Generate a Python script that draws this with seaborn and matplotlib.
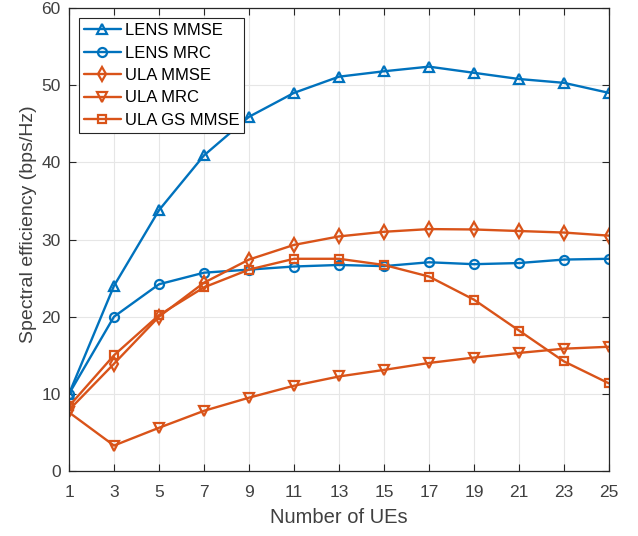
import matplotlib
matplotlib.use("Agg")
import matplotlib.pyplot as plt
import seaborn as sns
import pandas as pd

num_ues = [1, 3, 5, 7, 9, 11, 13, 15, 17, 19, 21, 23, 25]

lens_mmse = [10.0, 24.0, 33.8, 40.9, 45.9, 49.0, 51.1, 51.8, 52.4, 51.6, 50.8, 50.3, 49.0]
lens_mrc = [10.0, 20.0, 24.2, 25.7, 26.1, 26.5, 26.7, 26.55, 27.05, 26.8, 26.95, 27.4, 27.5]
ula_mmse = [7.9, 13.9, 20.0, 24.4, 27.4, 29.3, 30.4, 31.0, 31.35, 31.3, 31.1, 30.9, 30.5]
ula_mrc = [7.6, 3.3, 5.6, 7.8, 9.5, 11.05, 12.25, 13.1, 14.0, 14.7, 15.3, 15.85, 16.1]
ula_gs_mmse = [8.4, 15.0, 20.2, 23.8, 26.1, 27.5, 27.5, 26.7, 25.2, 22.2, 18.2, 14.2, 11.35]

series_names = ["LENS MMSE", "LENS MRC", "ULA MMSE", "ULA MRC", "ULA GS MMSE"]
series_values = [lens_mmse, lens_mrc, ula_mmse, ula_mrc, ula_gs_mmse]
series_markers = ["^", "o", "d", "v", "s"]
marker_sizes = {"^": 7.5, "o": 6.5, "d": 7, "v": 7.5, "s": 5.5}
blue, orange = "#0072BD", "#D95319"
series_colors = [blue, blue, orange, orange, orange]

df = pd.DataFrame(
    [(k, v, name) for name, vals in zip(series_names, series_values)
     for k, v in zip(num_ues, vals)],
    columns=["ues", "se", "scheme"],
)

sns.set_theme(style="whitegrid")
plt.rcParams["font.family"] = ["Liberation Sans", "DejaVu Sans"]

fig = plt.figure(figsize=(6.38, 5.36), dpi=100)
ax = fig.add_axes([69 / 638, 1 - 471 / 536, 540 / 638, 463 / 536])

for name, marker, color in zip(series_names, series_markers, series_colors):
    sub = df[df["scheme"] == name]
    sns.lineplot(
        data=sub, x="ues", y="se", ax=ax, color=color, linewidth=1.7,
        marker=marker, markersize=marker_sizes[marker], markerfacecolor="none",
        markeredgecolor=color, markeredgewidth=1.6, label=name,
    )

ax.set_xlim(1, 25)
ax.set_ylim(0, 60)
ax.set_xticks(num_ues)
ax.set_yticks([0, 10, 20, 30, 40, 50, 60])

text_color = "#404040"
ax.set_xlabel("Number of UEs", fontsize=14.5, color=text_color, labelpad=6)
ax.set_ylabel("Spectral efficiency (bps/Hz)", fontsize=14, color=text_color)
ax.yaxis.set_label_coords(-32 / 540, (471 - 224) / 463)
ax.tick_params(axis="both", which="both", direction="in", length=5, width=0.8,
               labelsize=12.5, colors="#262626", labelcolor=text_color,
               top=True, right=True, bottom=True, left=True)
ax.tick_params(axis="x", pad=10)
ax.tick_params(axis="y", pad=6)

ax.set_facecolor("white")
ax.grid(True, color="#e6e6e6", linewidth=0.8)
for side in ["left", "right", "top", "bottom"]:
    ax.spines[side].set_visible(True)
    ax.spines[side].set_color("#262626")
    ax.spines[side].set_linewidth(0.9)

leg = ax.legend(loc="upper left", bbox_to_anchor=(10 / 540, 1 - 10 / 463), fontsize=12,
                frameon=True, fancybox=False, framealpha=1, edgecolor="#262626",
                handlelength=2.2, handletextpad=0.25, borderpad=0.3,
                labelspacing=0.45, borderaxespad=0.0)
leg.get_frame().set_linewidth(0.8)
for t in leg.get_texts():
    t.set_color("#000000")

fig.savefig("out.png", dpi=100)
